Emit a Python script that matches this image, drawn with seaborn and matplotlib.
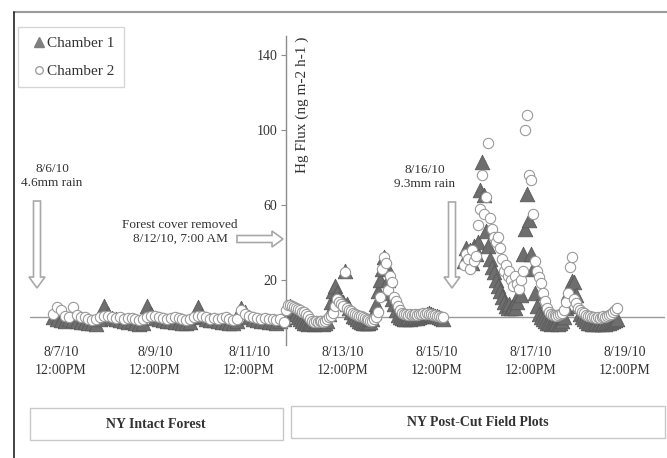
import numpy as np
import pandas as pd
import matplotlib
matplotlib.use('Agg')
import matplotlib.pyplot as plt
from matplotlib.lines import Line2D
from matplotlib.patches import Rectangle, FancyArrow
import seaborn as sns

nan = np.nan

# Intact forest, every 2 h starting 8/7/10 08:00
ch1_intact = [0, -1, -1.5, -2, -1, -1.5, -2, -2.5,
              -2.5, -3, -3, -3.5, -1, 6, 2, -0.5, -1, -1.5, -2, -2.5,
              -2, -3, -3.5, -3, 6, 2, -0.5, -1, -1.5, -2, -2, -2.5,
              -2.5, -3, -3, -2.5, 0, 5.5, 1, -1, -1.5, -1.5, -2, -2.5,
              -2.5, -3, -3, -2, 5, 3, 0, -1, -1.5, -2, -2, -2.5,
              -2.5, -3, -2, -1]
ch2_intact = [2, 5.5, 4, 1, 0, 5.5, 1.5, 0,
              0, -1, -1.5, -1, 0, 1, 0.5, 0, -0.5, 0, -1, -0.5,
              -0.5, -1, -1.5, -1, 0, 1, 0.5, 0, -0.5, -1, -0.5, 0,
              -0.5, -1, -1.5, -1, 0, 1, 0.5, 0, -1, -0.5, -1, -0.5,
              0, -1, -1.5, -1, 4, 2, 1, 0, -0.5, -1, -0.5, -1,
              -1, -1.5, -1, -2.5]

# Post-cut field plots, hourly starting 8/12/10 07:00 (nan = no data)
ch1_aug12 = [2, 5, 6, 5, 4, 2, 0, -1, -2, -3, -3, -3.5, -3, -3, -3.5, -3, -3]
ch2_aug12 = [4, 6.5, 6.5, 6, 5.5, 5, 4.5, 4, 3, 3, 2, 1, -1, -2, -2.5, -2, -2.5]
ch1_aug13 = [-3, -3, -3.5, -3, -2, 2, 8, 14, 17, 13, 10, 9, 8, 25, 7, 5, 3, 1, 0, -1, -2, -2.5, -3, -3]
ch2_aug13 = [-2, -2, -2.5, -2, -1, 0, 1, 2.5, 6, 10, 8, 7, 6, 24, 5, 4, 3.5, 2.5, 2, 1.5, 1, 0.5, 0, -0.5]
ch1_aug14 = [-3, -3, -2.5, -1, 3, 7, 14, 20, 26, 32, 28, 20, 13, 10, 7, 4, 1.5, 0, -0.5, -1, -1, -0.5, -1, -0.5]
ch2_aug14 = [-1, -1.5, -2, -2, -1, 0, 3, 11, 26, 32, 29, 14.7, 22, 19, 11, 9, 6, 4, 2.5, 2, 2, 1.5, 2, 1.5]
ch1_aug15 = [-0.5, 0, -0.5, 0, 0.5, 1, 1.5, 2, 2.5, 2, 1.5, 1, 0.5, 0, -0.5, -1, nan, nan, nan, nan, nan, nan, nan, nan]
ch2_aug15 = [1.5, 2, 1.5, 2, 2, 2.5, 2, 2.5, 2, 2, 1.5, 1.5, 1, 0.5, 0, 0, nan, nan, nan, nan, nan, nan, nan, nan]
ch1_aug16 = [nan, nan, 30, 37, 33, 36, 29, 38, 34, 40, 68, 83, 65, 46, 38, 31, 27, 24, 20, 17, 14, 11, 8, 6]
ch2_aug16 = [nan, nan, 28, 34, 31, 26, 36, 30, 33, 49, 58, 76, 55, 64, 93, 53, 47, 43, 40, 43, 37, 31, 25, 28]
ch1_aug17 = [5, 7, 5, 6, 5, 8, 13, 12, 34, 47, 66, 52, 34, 26, 13, 6, 2, 0, -1, -2, -3, -3, -3.5, -3]
ch2_aug17 = [22, 25, 20, 17, 22, 18, 15, 20, 25, 100, 108, 76, 73, 55, 30, 25, 21.6, 18.5, 13, 9, 5, 3, 2, 1.5]
ch1_aug18 = [-3, -3, -3.5, -3, -2, 0, 5, 13, 17, 19.5, 19, 12, 6, 2, 0, -1, -2, -3, -3, -3.5, -3.5, -3, -3.5, -3]
ch2_aug18 = [1.5, 1, 1.5, 2, 2.5, 4, 8, 13, 27, 32, 10, 7.7, 5, 4, 3, 2.4, 1.5, 1, 0.5, 0, 0, -0.5, 0, -0.5]
ch1_aug19 = [-3.5, -3, -3.5, -3, -3, -2.5, -2, -1.5, -1]
ch2_aug19 = [0, 0.5, 0, 1, 1.5, 2, 3, 4, 5]

tick_times = ['2010-08-07 12:00', '2010-08-09 12:00', '2010-08-11 12:00', '2010-08-13 12:00',
              '2010-08-15 12:00', '2010-08-17 12:00', '2010-08-19 12:00']
tick_labels = ['8/7/10\n12:00PM', '8/9/10\n12:00PM', '8/11/10\n12:00PM', '8/13/10\n12:00PM',
               '8/15/10\n12:00PM', '8/17/10\n12:00PM', '8/19/10\n12:00PM']
y_ticks = [20, 60, 100, 140]

# build long table
ch1_cut = ch1_aug12 + ch1_aug13 + ch1_aug14 + ch1_aug15 + ch1_aug16 + ch1_aug17 + ch1_aug18 + ch1_aug19
ch2_cut = ch2_aug12 + ch2_aug13 + ch2_aug14 + ch2_aug15 + ch2_aug16 + ch2_aug17 + ch2_aug18 + ch2_aug19
intact_times = pd.date_range('2010-08-07 08:00', periods=len(ch1_intact), freq='2h')
cut_times = pd.date_range('2010-08-12 07:00', periods=len(ch1_cut), freq='h')
times = intact_times.append(cut_times)

df = pd.concat([
    pd.DataFrame({'Time': times, 'Flux': ch1_intact + ch1_cut, 'Chamber': 'Chamber 1'}),
    pd.DataFrame({'Time': times, 'Flux': ch2_intact + ch2_cut, 'Chamber': 'Chamber 2'}),
]).dropna()

sns.set_theme(style='white')
plt.rcParams['font.family'] = ['Liberation Serif', 'DejaVu Serif']
plt.rcParams['text.color'] = '#333333'

W, H = 667, 458
fig = plt.figure(figsize=(W / 100, H / 100), dpi=100)

# overlay in pixel coords for frame, boxes and notes
ov = fig.add_axes([0, 0, 1, 1])
ov.set_xlim(0, W)
ov.set_ylim(H, 0)
ov.axis('off')

ax = fig.add_axes([30 / W, 1 - 345 / H, 635 / W, 309 / H])
ax.patch.set_alpha(0)

sns.scatterplot(data=df[df['Chamber'] == 'Chamber 1'], x='Time', y='Flux', ax=ax,
                marker='^', s=110, color='#6e6e6e', edgecolor='#5a5a5a', linewidth=0.6,
                legend=False, zorder=2)
sns.scatterplot(data=df[df['Chamber'] == 'Chamber 2'], x='Time', y='Flux', ax=ax,
                marker='o', s=55, color='white', edgecolor='#9a9a9a', linewidth=0.8,
                legend=False, zorder=3)

ax.set_xlim(pd.Timestamp('2010-08-06 20:10'), pd.Timestamp('2010-08-20 08:25'))
ax.set_ylim(-14.7, 150)
ax.axhline(0, color='#9a9a9a', lw=1, zorder=1)

for side in ['top', 'right', 'bottom']:
    ax.spines[side].set_visible(False)
ax.spines['left'].set_position(('data', matplotlib.dates.date2num(pd.Timestamp('2010-08-12 07:00'))))
ax.spines['left'].set_color('#8c8c8c')
ax.spines['left'].set_linewidth(1)

ax.set_yticks(y_ticks)
ax.set_yticklabels([str(v) for v in y_ticks], fontsize=10, color='#333333')
ax.tick_params(axis='y', left=True, length=3.5, width=0.8, color='#8c8c8c', pad=3)
ax.set_xticks(pd.to_datetime(tick_times))
ax.set_xticklabels(tick_labels, fontsize=10, color='#333333')
ax.tick_params(axis='x', length=0, pad=1)
for lab in ax.get_xticklabels():
    lab.set_linespacing(1.45)
ax.set_xlabel('')
ax.set_ylabel('')
ax.grid(False)

ov.text(302, 37, 'Hg Flux (ng m-2 h-1 )', rotation=90, ha='center', va='top', fontsize=11)

# page frame
ov.plot([14, W], [12, 12], color='#9a9a9a', lw=1.5)
ov.plot([14, 14], [12, H], color='#222222', lw=1.2)

# rain / cut annotations
arrow_kw = dict(width=7, head_width=16, head_length=11, length_includes_head=True,
                fc='white', ec='#a8a8a8', lw=1.2)
ov.add_patch(FancyArrow(37, 201, 0, 87, **arrow_kw))
ov.add_patch(FancyArrow(237, 239, 46, 0, **arrow_kw))
ov.add_patch(FancyArrow(452, 202, 0, 86, **arrow_kw))
ov.text(52, 176, '8/6/10\n4.6mm rain', ha='center', va='center', fontsize=9.5, linespacing=1.3)
ov.text(180, 232, 'Forest cover removed\n8/12/10, 7:00 AM', ha='center', va='center', fontsize=9.5, linespacing=1.2)
ov.text(425, 177, '8/16/10\n9.3mm rain', ha='center', va='center', fontsize=9.5, linespacing=1.3)

# site boxes
ov.add_patch(Rectangle((30, 408), 253, 32, fc='white', ec='#c8c8c8', lw=1))
ov.add_patch(Rectangle((291, 406), 374, 32, fc='white', ec='#c8c8c8', lw=1))
ov.text(156, 424, 'NY Intact Forest', ha='center', va='center', fontsize=10, fontweight='bold')
ov.text(478, 422, 'NY Post-Cut Field Plots', ha='center', va='center', fontsize=10, fontweight='bold')

handles = [Line2D([], [], marker='^', ls='none', color='#7f7f7f', markersize=7),
           Line2D([], [], marker='o', ls='none', mfc='white', mec='#a0a0a0', markersize=5.5)]
leg = fig.legend(handles, ['Chamber 1', 'Chamber 2'], loc='upper left',
                 bbox_to_anchor=(18 / W, 1 - 27 / H), frameon=True, fancybox=False,
                 edgecolor='#cccccc', fontsize=11, handlelength=1.5, handletextpad=-0.2,
                 labelspacing=0.95, borderpad=0.6, borderaxespad=0)
leg.get_frame().set_linewidth(1)

fig.savefig('out.png', dpi=100)
